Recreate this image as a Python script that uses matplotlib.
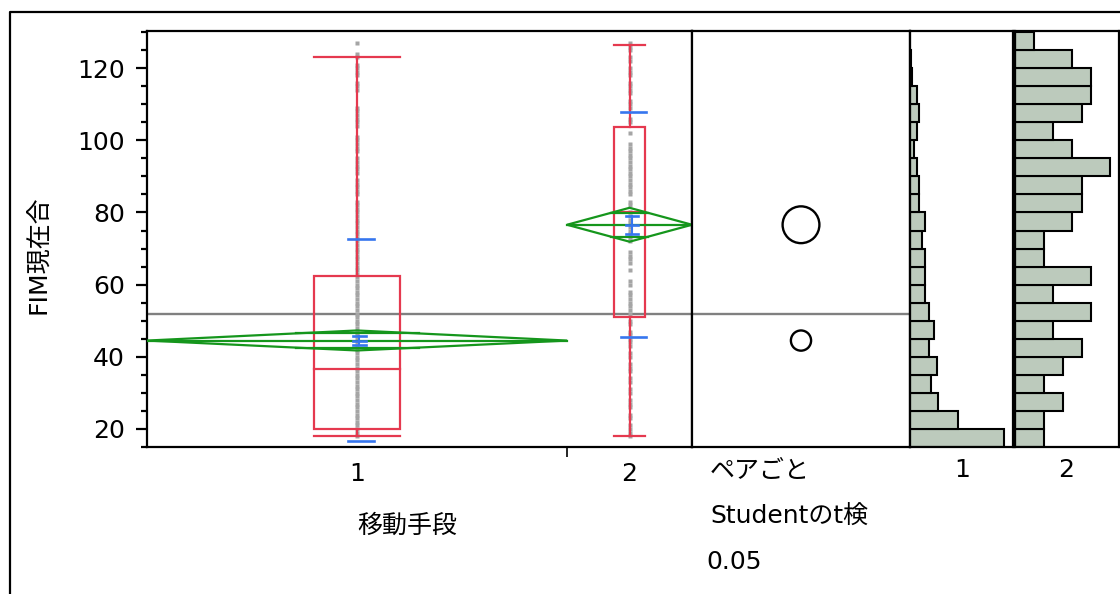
import numpy as np
import matplotlib.pyplot as plt
from matplotlib.patches import Polygon, Rectangle, Circle
from matplotlib.lines import Line2D

plt.rcParams['font.family'] = ['DejaVu Sans', 'Noto Sans CJK JP']

# group summary (FIM by transport mode)
groups = ['1', '2']
group_n = [427, 127]
means = [44.5, 76.6]
ci_low = [41.75, 71.9]
ci_high = [47.3, 81.3]
se = [1.35, 2.5]
sd_low = [16.8, 45.6]
sd_high = [72.7, 107.9]
q1 = [20.0, 51.0]
median = [36.7, 80.2]
q3 = [62.3, 103.8]
whisk_lo = [18.1, 18.1]
whisk_hi = [123.2, 126.5]
grand_mean = 51.9
circle_r = [2.8, 5.1]

# observed values per group
g1_points = [18, 19, 20, 21, 22, 23, 24, 25, 26, 27, 28, 29, 30, 31, 32, 33, 34, 35,
             36, 37, 38, 39, 40, 41, 42, 43, 44, 45, 46, 47, 48, 49, 50, 51, 52, 53,
             54, 55, 56, 57, 58, 59, 60, 61, 62, 63, 64, 65, 66, 67, 68, 69, 70, 71,
             72, 73, 74, 75, 76, 77, 78, 79, 80, 81, 82, 83, 85, 86, 87, 88, 89, 91,
             92, 93, 94, 95, 97, 98, 99, 100, 101, 104, 105, 106, 107, 108, 109, 114,
             115, 116, 118, 119, 120, 121, 123, 124, 127]
g2_points = [18, 19, 20, 21, 23, 24, 26, 27, 28, 30, 31, 33, 34, 36, 37, 38, 40, 41,
             43, 44, 45, 46, 47, 49, 50, 52, 53, 54, 55, 56, 57, 58, 60, 61, 64, 66,
             67, 68, 69, 72, 73, 74, 75, 76, 77, 78, 79, 80, 82, 83, 85, 86, 87, 88,
             89, 90, 91, 92, 93, 94, 95, 96, 97, 98, 99, 102, 105, 106, 109, 110, 111,
             113, 114, 115, 116, 118, 119, 120, 122, 123, 125, 126, 127]
points = [g1_points, g2_points]

# histograms, 5-point bins from 15 upward
bin_low = [15, 20, 25, 30, 35, 40, 45, 50, 55, 60, 65, 70, 75, 80, 85, 90, 95,
           100, 105, 110, 115, 120, 125]
hist1 = [99, 50, 29, 22, 28, 20, 25, 20, 16, 16, 16, 13, 16, 9, 9, 7, 4, 7, 9, 7, 2, 1, 0]
hist2 = [3, 3, 5, 3, 5, 7, 4, 8, 4, 8, 3, 3, 6, 7, 7, 10, 6, 4, 7, 8, 8, 6, 2]

yticks = [20, 40, 60, 80, 100, 120]
ylim = (15, 130.3)

RED = '#e5394f'
GREEN = '#15961c'
BLUE = '#3676ee'
GRAY = '#a5a5a5'
HIST_FILL = '#bccabc'
FS = 18
LW = 1.6

W, H = 1120, 594
fig = plt.figure(figsize=(W / 100, H / 100), dpi=100)


def px_axes(x0, x1, y0, y1):
    return fig.add_axes([x0 / W, 1 - y1 / H, (x1 - x0) / W, (y1 - y0) / H])


ax = px_axes(147, 692, 31, 447)
ax_pair = px_axes(692, 910, 31, 447)
ax_h1 = px_axes(910, 1013, 31, 447)
ax_h2 = px_axes(1015, 1119, 31, 447)

for a in (ax, ax_pair, ax_h1, ax_h2):
    a.set_ylim(*ylim)
    for s in a.spines.values():
        s.set_linewidth(1.6)
        s.set_color('black')

# ---- main oneway plot ----
total = sum(group_n)
ax.set_xlim(0, total)
x0s = [0, group_n[0]]
x1s = [group_n[0], total]
centers = [(a + b) / 2 for a, b in zip(x0s, x1s)]
box_w = [88, 32]
sd_w, se_w, bar_off = 26, 13, 4

ax.axhline(grand_mean, color='#808080', lw=1.7, zorder=1)

for i in range(2):
    c = centers[i]
    ax.plot(np.full(len(points[i]), c), points[i], 's', ms=3.0, color=GRAY,
            mec='none', zorder=2)

    bw = box_w[i]
    ax.add_patch(Rectangle((c - bw / 2, q1[i]), bw, q3[i] - q1[i], fill=False,
                           ec=RED, lw=LW, zorder=3))
    ax.plot([c - bw / 2, c + bw / 2], [median[i]] * 2, color=RED, lw=LW, zorder=3)
    ax.plot([c, c], [q3[i], whisk_hi[i]], color=RED, lw=LW, zorder=3)
    ax.plot([c, c], [whisk_lo[i], q1[i]], color=RED, lw=LW, zorder=3)
    for v in (whisk_lo[i], whisk_hi[i]):
        ax.plot([c - bw / 2, c + bw / 2], [v, v], color=RED, lw=LW, zorder=3)

    # means diamond with overlap marks
    m, lo, hi = means[i], ci_low[i], ci_high[i]
    x0, x1 = x0s[i], x1s[i]
    ax.add_patch(Polygon([[x0, m], [c, hi], [x1, m], [c, lo]], closed=True,
                         fill=False, ec=GREEN, lw=LW, zorder=4))
    ax.plot([x0, x1], [m, m], color=GREEN, lw=LW, zorder=4)
    d = (hi - m) / np.sqrt(2)
    hw = (1 - 1 / np.sqrt(2)) * (x1 - x0) / 2
    for v in (m - d, m + d):
        ax.plot([c - hw, c + hw], [v, v], color=GREEN, lw=LW, zorder=4)

    # std dev and std error bars
    bx = c + bar_off
    for v in (sd_low[i], sd_high[i]):
        ax.plot([bx - sd_w / 2, bx + sd_w / 2], [v, v], color=BLUE, lw=1.9, zorder=5)
    ax.plot([bx - 1.5, bx - 1.5], [m - se[i], m + se[i]], color=BLUE, lw=1.5, zorder=5)
    for v in (m - se[i], m, m + se[i]):
        ax.plot([bx - 1.5 - se_w / 2, bx - 1.5 + se_w / 2], [v, v], color=BLUE,
                lw=1.9, zorder=5)

ax.set_yticks(yticks)
ax.set_yticklabels([str(t) for t in yticks], fontsize=FS)
ax.set_yticks(np.arange(15, 131, 5), minor=True)
ax.tick_params(axis='y', which='major', length=8, width=1.6, pad=8)
ax.tick_params(axis='y', which='minor', length=4.3, width=1.6)
ax.set_xticks(centers)
ax.set_xticklabels(groups, fontsize=FS)
ax.set_xticks([group_n[0]], minor=True)
ax.tick_params(axis='x', which='major', length=0, pad=11)
ax.tick_params(axis='x', which='minor', length=7, width=1.2)

# ---- comparison circles ----
px_per_unit = (447 - 31) / (ylim[1] - ylim[0])
pair_w = (910 - 692) / px_per_unit
ax_pair.set_xlim(0, pair_w)
ax_pair.axhline(grand_mean, color='#808080', lw=1.7, zorder=1)
for i in range(2):
    ax_pair.add_patch(Circle((pair_w / 2, means[i]), circle_r[i], fill=False,
                             ec='black', lw=1.7))
ax_pair.set_xticks([])
ax_pair.set_yticks([])

# ---- histograms ----
for a, counts in ((ax_h1, hist1), (ax_h2, hist2)):
    a.barh(bin_low, counts, height=5, align='edge', color=HIST_FILL,
           edgecolor='black', lw=1.5)
    a.set_xlim(0, max(counts) * 1.09)
    a.set_xticks([])
    a.set_yticks([])

# ---- labels ----
fig.text(962 / W, 1 - 470 / H, '1', fontsize=FS, ha='center', va='center')
fig.text(1066 / W, 1 - 470 / H, '2', fontsize=FS, ha='center', va='center')
fig.text(39 / W, 1 - 255 / H, 'FIM現在合', fontsize=FS, rotation=90,
         ha='center', va='center')
fig.text(407 / W, 1 - 526 / H, '移動手段', fontsize=FS, ha='center', va='center')
fig.text(710 / W, 1 - 471 / H, 'ペアごと', fontsize=FS, ha='left', va='center')
fig.text(710 / W, 1 - 517 / H, 'Studentのt検', fontsize=FS, ha='left', va='center')
fig.text(706 / W, 1 - 562 / H, '0.05', fontsize=FS, ha='left', va='center')

# outer frame
fig.add_artist(Line2D([10 / W, 10 / W, 1], [0, 1 - 12 / H, 1 - 12 / H],
                      transform=fig.transFigure, color='black', lw=1.6))

fig.savefig('out.png', dpi=100)
